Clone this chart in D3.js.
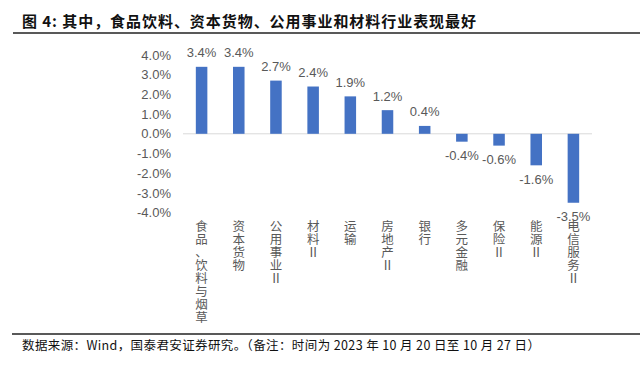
<!DOCTYPE html>
<html><head><meta charset="utf-8">
<script src="https://cdn.jsdelivr.net/npm/d3@7/dist/d3.min.js"></script>
<style>
html,body{margin:0;padding:0;background:#fff;}
svg{display:block;}
</style></head>
<body><svg id="c" width="640" height="366"></svg>
<script>
const categories = ["食品、饮料与烟草","资本货物","公用事业Ⅱ","材料Ⅱ","运输","房地产Ⅱ","银行","多元金融","保险Ⅱ","能源Ⅱ","电信服务Ⅱ"];
const values = [3.4, 3.4, 2.7, 2.4, 1.9, 1.2, 0.4, -0.4, -0.6, -1.6, -3.5];
const yTicks = [4, 3, 2, 1, 0, -1, -2, -3, -4];
const title = "图 4: 其中，食品饮料、资本货物、公用事业和材料行业表现最好";
const source = "数据来源：Wind，国泰君安证券研究。（备注：时间为 2023 年 10 月 20 日至 10 月 27 日）";

const svg = d3.select("#c");
const cjk = "'Noto Sans CJK SC','Noto Sans',sans-serif";
const latin = "'Liberation Sans',Arial,sans-serif";
const grey = "#595959";
const pct = d => d3.format(".1f")(d).replace("\u2212", "-") + "%";

// title
svg.append("text").attr("x", 22).attr("y", 27)
  .attr("font-family", cjk).attr("font-weight", "bold").attr("font-size", 15)
  .attr("fill", "#111").attr("textLength", 454).attr("lengthAdjust", "spacing")
  .text(title);
svg.append("line").attr("x1", 13).attr("x2", 640).attr("y1", 33).attr("y2", 33)
  .attr("stroke", "#222").attr("stroke-width", 1.5);

// footer
svg.append("line").attr("x1", 12).attr("x2", 640).attr("y1", 334).attr("y2", 334)
  .attr("stroke", "#222").attr("stroke-width", 1.5);
svg.append("text").attr("x", 22).attr("y", 350)
  .attr("font-family", cjk).attr("font-size", 12.5)
  .attr("fill", "#111").attr("textLength", 518).attr("lengthAdjust", "spacing")
  .text(source);

const x = d3.scaleBand().domain(categories).range([183, 592]).paddingInner(0.69).paddingOuter(0.345);
const y = d3.scaleLinear().domain([-4, 4]).range([212.6, 55]);

// y axis labels
const yAxis = d3.axisLeft(y).tickValues(yTicks).tickSize(0).tickPadding(0).tickFormat(pct);
const gy = svg.append("g").attr("transform", "translate(171,0)").call(yAxis);
gy.select(".domain").remove();
gy.selectAll("text").attr("font-family", latin).attr("font-size", 13).attr("fill", grey);

// zero line
svg.append("line").attr("x1", 183).attr("x2", 592).attr("y1", y(0)).attr("y2", y(0))
  .attr("stroke", "#d9d9d9").attr("stroke-width", 1);

// bars
svg.append("g").selectAll("rect").data(values).join("rect")
  .attr("x", (d, i) => x(categories[i]))
  .attr("width", x.bandwidth())
  .attr("y", d => y(Math.max(0, d)))
  .attr("height", d => Math.abs(y(d) - y(0)))
  .attr("fill", "#4472C4");

// value labels
svg.append("g").selectAll("text").data(values).join("text")
  .attr("x", (d, i) => x(categories[i]) + x.bandwidth() / 2)
  .attr("y", d => d >= 0 ? y(d) - 14 : y(d) + 14)
  .attr("dy", "0.35em")
  .attr("text-anchor", "middle")
  .attr("font-family", latin).attr("font-size", 13).attr("fill", grey)
  .text(pct);

// vertical category labels, one glyph per row
const cg = svg.append("g");
categories.forEach((c, i) => {
  const cx = x(c) + x.bandwidth() / 2;
  const t = cg.append("text").attr("font-family", cjk).attr("font-size", 12.5).attr("fill", grey)
    .attr("text-anchor", "middle");
  Array.from(c).forEach((ch, j) => {
    t.append("tspan").attr("x", cx).attr("y", 230.5 + j * 13.1).text(ch);
  });
});
</script>
</body></html>
